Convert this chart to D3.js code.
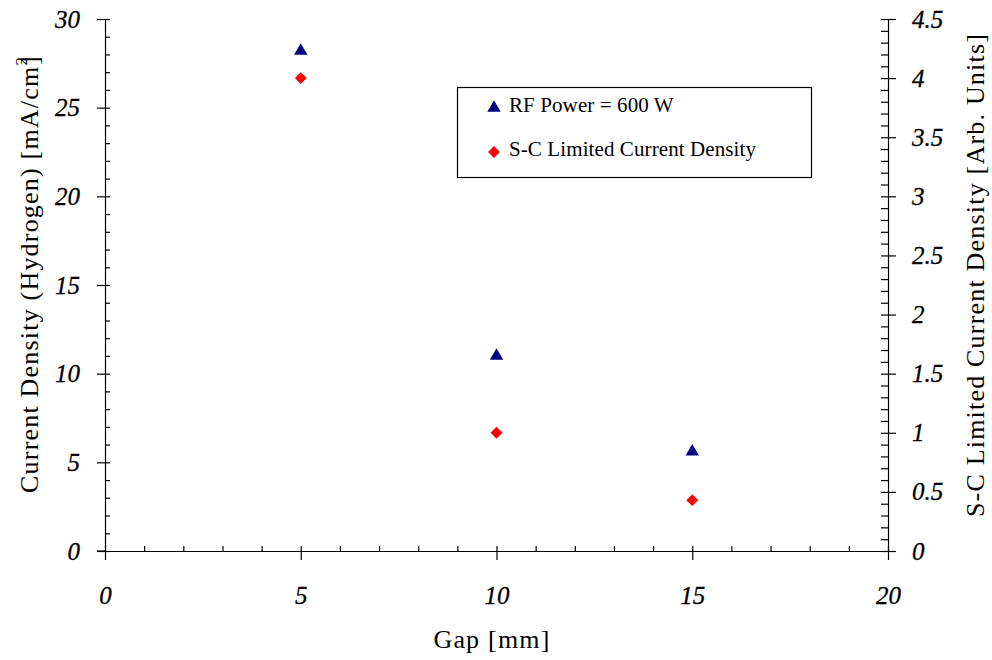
<!DOCTYPE html>
<html>
<head>
<meta charset="utf-8">
<script src="https://cdn.jsdelivr.net/npm/d3@7"></script>
<style>
  html, body { margin: 0; padding: 0; background: #fff; }
  svg { display: block; }
  .tick text { font-family: "Liberation Serif", "Times New Roman", serif; font-style: italic; font-size: 25px; fill: #000; stroke: #000; stroke-width: 0.3px; }
  .title { font-family: "Liberation Serif", "Times New Roman", serif; font-size: 26px; letter-spacing: 1.2px; fill: #000; }
  .legend text { font-family: "Liberation Serif", "Times New Roman", serif; font-size: 21px; letter-spacing: 0.1px; fill: #000; }
</style>
</head>
<body>
<svg id="chart" width="992" height="660"></svg>
<script>
// Gap between electrodes [mm]
const gaps = [5, 10, 15];
// Measured hydrogen current density at 600 W [mA/cm^2]
const currentDensity = [28.2, 11.0, 5.6];
// Space-charge limited current density [arbitrary units]
const scLimited = [4.0, 1.0, 0.43];

const seriesNames = ["RF Power = 600 W", "S-C Limited Current Density"];
const xTicks = d3.range(0, 21, 1);
const yLeftTicks = d3.range(0, 31, 1);
const yRightTicks = d3.range(0, 46, 1).map(i => i / 10);

const svg = d3.select("#chart");
const plot = { left: 105, right: 888, top: 19, bottom: 551 };

const x = d3.scaleLinear().domain([0, 20]).range([plot.left, plot.right]);
const yL = d3.scaleLinear().domain([0, 30]).range([plot.bottom, plot.top]);
const yR = d3.scaleLinear().domain([0, 4.5]).range([plot.bottom, plot.top]);

// Left axis: minor ticks inside, major ticks crossing the line
const gL = svg.append("g").attr("transform", `translate(${plot.left},0)`)
  .call(d3.axisLeft(yL).tickValues(yLeftTicks).tickSizeInner(-5).tickSizeOuter(0)
    .tickPadding(25).tickFormat(d => d % 5 === 0 ? d : ""));
gL.selectAll(".tick").filter(d => d % 5 === 0).select("line").attr("x1", -8);

// Right axis
const gR = svg.append("g").attr("transform", `translate(${plot.right},0)`)
  .call(d3.axisRight(yR).tickValues(yRightTicks).tickSizeInner(-7).tickSizeOuter(0)
    .tickPadding(24).tickFormat(d => Math.round(d * 10) % 5 === 0 ? d3.format("~g")(d) : ""));
gR.selectAll(".tick").filter(d => Math.round(d * 10) % 5 === 0).select("line").attr("x1", 8);

// Bottom axis
const gX = svg.append("g").attr("transform", `translate(0,${plot.bottom})`)
  .call(d3.axisBottom(x).tickValues(xTicks).tickSizeInner(-5).tickSizeOuter(0)
    .tickPadding(35).tickFormat(d => d % 5 === 0 ? d : ""));
gX.selectAll(".tick").filter(d => d % 5 === 0).select("line").attr("y1", 9);

[gL, gR, gX].forEach(g => {
  g.selectAll("path.domain").attr("stroke", "#000").attr("stroke-width", 1.2);
  g.selectAll(".tick line").attr("stroke", "#000").attr("stroke-width", 1.2);
});
// x axis line reaches past the left axis
svg.append("line").attr("x1", plot.left - 8).attr("x2", plot.left)
  .attr("y1", plot.bottom).attr("y2", plot.bottom).attr("stroke", "#000").attr("stroke-width", 1.2);

const tri = d3.symbol().type(d3.symbolTriangle).size(78);
const sq = d3.symbol().type(d3.symbolSquare).size(70);

// Measured points (left axis)
svg.append("g").selectAll("path").data(gaps).join("path")
  .attr("d", tri)
  .attr("transform", (d, i) => `translate(${x(d)},${yL(currentDensity[i])})`)
  .attr("fill", "#000080");

// Space-charge limit points (right axis), squares turned into diamonds
svg.append("g").selectAll("path").data(gaps).join("path")
  .attr("d", sq)
  .attr("transform", (d, i) => `translate(${x(d)},${yR(scLimited[i])}) rotate(45)`)
  .attr("fill", "#ff0000");

// Axis titles
svg.append("text").attr("class", "title")
  .attr("x", 492).attr("y", 648).attr("text-anchor", "middle")
  .text("Gap [mm]");

const lt = svg.append("text").attr("class", "title")
  .attr("transform", "translate(38,274) rotate(-90)").attr("text-anchor", "middle");
lt.append("tspan").text("Current Density (Hydrogen) [mA/cm");
lt.append("tspan").attr("dy", -11).attr("font-size", 17).text("2");
lt.append("tspan").attr("dy", 11).attr("dx", -9).text("]");

svg.append("text").attr("class", "title")
  .attr("transform", "translate(984,275) rotate(-90)").attr("text-anchor", "middle")
  .text("S-C Limited Current Density [Arb. Units]");

// Legend
const lg = svg.append("g").attr("class", "legend");
lg.append("rect").attr("x", 457.5).attr("y", 87.5).attr("width", 354).attr("height", 90)
  .attr("fill", "#fff").attr("stroke", "#000").attr("stroke-width", 1.2);
const rows = [
  { y: 108, base: 112 },
  { y: 152, base: 156 }
];
lg.append("path").attr("d", tri).attr("fill", "#000080")
  .attr("transform", `translate(494,${rows[0].y})`);
lg.append("path").attr("d", sq).attr("fill", "#ff0000")
  .attr("transform", `translate(494,${rows[1].y}) rotate(45)`);
rows.forEach((r, i) => {
  lg.append("text").attr("x", 509).attr("y", r.base).text(seriesNames[i]);
});
</script>
</body>
</html>
